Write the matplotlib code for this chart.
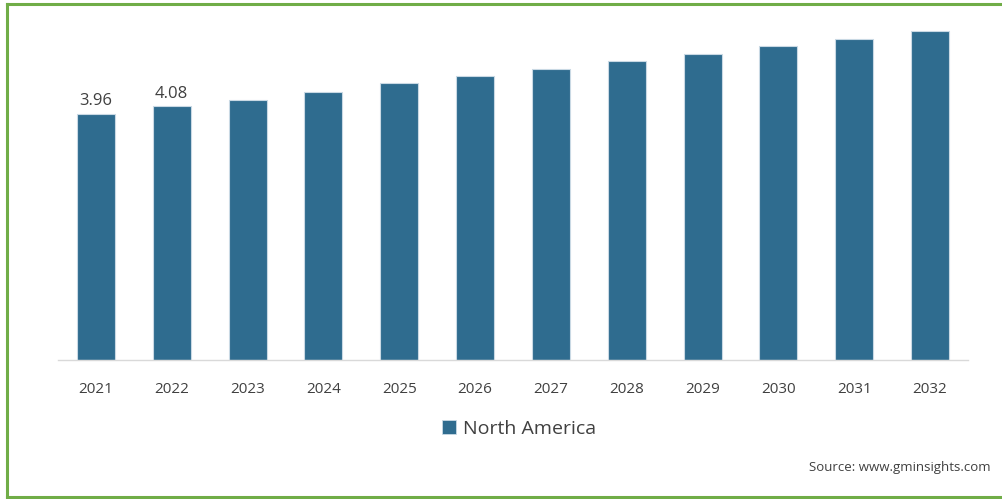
import matplotlib
matplotlib.use("Agg")
import matplotlib.pyplot as plt
from matplotlib.lines import Line2D
from matplotlib.patches import Patch

# Market size by year, North America
years = ["2021", "2022", "2023", "2024", "2025", "2026",
         "2027", "2028", "2029", "2030", "2031", "2032"]
north_america = [3.96, 4.08, 4.19, 4.32, 4.45, 4.57,
                 4.68, 4.81, 4.93, 5.06, 5.16, 5.29]
labelled_years = ["2021", "2022"]

BAR_COLOR = "#2F6C8F"
TEXT_COLOR = "#404040"
BORDER_COLOR = "#70AD47"

plt.rcParams["font.family"] = ["Open Sans", "DejaVu Sans"]

W, H = 1003, 499
fig = plt.figure(figsize=(W / 100, H / 100), dpi=100)
fig.patch.set_facecolor("white")

ax = fig.add_axes([58 / W, (H - 360) / H, (968 - 58) / W, (360 - 20) / H])
x = range(len(years))
ax.bar(x, north_america, width=0.5, color=BAR_COLOR,
       edgecolor="#c9d9e4", linewidth=0.8, zorder=2)

for i, (yr, v) in enumerate(zip(years, north_america)):
    if yr in labelled_years:
        ax.annotate(f"{v:.2f}", (i, v), xytext=(0, 3.5), textcoords="offset points",
                    ha="center", va="bottom", fontsize=12, color=TEXT_COLOR)

ax.set_xlim(-0.5, len(years) - 0.5)
ax.set_ylim(0, (360 - 20) / 62.15)
ax.set_xticks(list(x))
ax.set_xticklabels(years, fontsize=11, color=TEXT_COLOR)
ax.tick_params(axis="x", length=0, pad=16)
ax.set_yticks([])
for side in ["top", "right", "left"]:
    ax.spines[side].set_visible(False)
ax.spines["bottom"].set_color("#d9d9d9")
ax.spines["bottom"].set_linewidth(1.0)

fig.legend(handles=[Patch(facecolor=BAR_COLOR, edgecolor="#c9d9e4", linewidth=0.6,
                          label="North America")],
           loc="center", bbox_to_anchor=(519 / W, 1 - 429 / H), frameon=False,
           fontsize=14, handlelength=0.75, handleheight=0.75, handletextpad=0.35,
           labelcolor=TEXT_COLOR)

fig.text(991 / W, 1 - 468 / H, "Source: www.gminsights.com", ha="right", va="center",
         fontsize=9.5, color=TEXT_COLOR)

# green frame: left, top and bottom edges
lw = 2.2
fig.add_artist(Line2D([7 / W, 7 / W], [1 - 4 / H, 1 - 497 / H], transform=fig.transFigure,
                      color=BORDER_COLOR, linewidth=lw))
fig.add_artist(Line2D([7 / W, 1], [1 - 4 / H, 1 - 4 / H], transform=fig.transFigure,
                      color=BORDER_COLOR, linewidth=lw))
fig.add_artist(Line2D([7 / W, 1], [1 - 497 / H, 1 - 497 / H], transform=fig.transFigure,
                      color=BORDER_COLOR, linewidth=lw))

fig.savefig("out.png", dpi=100, facecolor="white")
